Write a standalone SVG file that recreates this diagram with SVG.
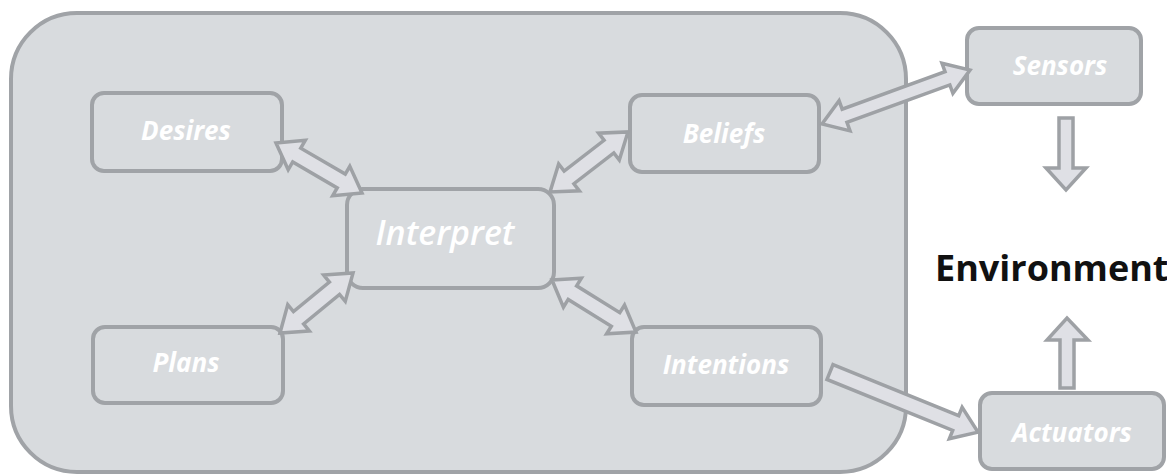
<svg xmlns="http://www.w3.org/2000/svg" width="1167" height="476" viewBox="0 0 1167 476">
  <style>
    .frame { fill: #d8dbde; stroke: #a0a3a7; stroke-width: 4; }
    .node { fill: #d8dbde; stroke: #a0a3a7; stroke-width: 4; }
    .lbl { font-family: "Open Sans", "DejaVu Sans", sans-serif; font-style: italic; font-weight: 700; font-size: 26px; fill: #ffffff; text-anchor: middle; }
    .big { font-size: 34px; font-weight: 600; }
    .env { font-family: "Open Sans", "Liberation Sans", sans-serif; font-weight: 700; font-size: 36px; fill: #111111; }
    .arrow { fill: #dfe0e5; stroke: #9ea1a5; stroke-width: 3.5; stroke-linejoin: miter; }
  </style>
  <rect width="1167" height="476" fill="#ffffff"/>

  <!-- agent boundary -->
  <rect id="agent" class="frame" x="11" y="13" width="895" height="459" rx="66" ry="66"/>

  <g id="desires">
    <rect class="node" x="92" y="93" width="190" height="78" rx="12"/>
    <text class="lbl" x="186" y="140">Desires</text>
  </g>
  <g id="plans">
    <rect class="node" x="93" y="327" width="190" height="76" rx="12"/>
    <text class="lbl" x="186" y="372">Plans</text>
  </g>
  <g id="interpret">
    <rect class="node" x="347" y="189" width="207" height="99" rx="16"/>
    <text class="lbl big" x="445" y="245">Interpret</text>
  </g>
  <g id="beliefs">
    <rect class="node" x="630" y="95" width="189" height="77" rx="12"/>
    <text class="lbl" x="724" y="143">Beliefs</text>
  </g>
  <g id="intentions">
    <rect class="node" x="632" y="327" width="189" height="78" rx="12"/>
    <text class="lbl" x="726" y="374">Intentions</text>
  </g>
  <g id="sensors">
    <rect class="node" x="967" y="28" width="174" height="76" rx="12"/>
    <text class="lbl" x="1060" y="75">Sensors</text>
  </g>
  <g id="actuators">
    <rect class="node" x="980" y="393" width="184" height="76" rx="12"/>
    <text class="lbl" x="1072" y="442">Actuators</text>
  </g>
  <g id="environment">
    <text class="env" x="935" y="281">Environment</text>
  </g>

  <!-- block arrows -->
  <g id="connectors">
    <!-- desires <-> interpret -->
    <polygon class="arrow" transform="translate(276 143) rotate(30.2)"
      points="0,0 24,-17 24,-8 75.5,-8 75.5,-17 99.5,0 75.5,17 75.5,8 24,8 24,17"/>
    <!-- interpret <-> beliefs -->
    <polygon class="arrow" transform="translate(550 192) rotate(-37.6)"
      points="0,0 24,-17 24,-8 74.4,-8 74.4,-17 98.4,0 74.4,17 74.4,8 24,8 24,17"/>
    <!-- plans <-> interpret -->
    <polygon class="arrow" transform="translate(280 333) rotate(-39.4)"
      points="0,0 24,-17 24,-8 70.5,-8 70.5,-17 94.5,0 70.5,17 70.5,8 24,8 24,17"/>
    <!-- interpret <-> intentions -->
    <polygon class="arrow" transform="translate(552 280) rotate(31.8)"
      points="0,0 24,-17 24,-8 74.8,-8 74.8,-17 98.8,0 74.8,17 74.8,8 24,8 24,17"/>
    <!-- beliefs <-> sensors -->
    <polygon class="arrow" transform="translate(822 124) rotate(-20)"
      points="0,0 24,-16 24,-7 133.5,-7 133.5,-16 157.5,0 133.5,16 133.5,7 24,7 24,16"/>
    <!-- intentions -> actuators -->
    <polygon class="arrow" transform="translate(830 372) rotate(22.1)"
      points="0,-8 135.7,-8 135.7,-17 159.7,0 135.7,17 135.7,8 0,8"/>
    <!-- sensors -> environment -->
    <polygon class="arrow" points="1059,118 1073,118 1073,168 1086,168 1066,190 1046,168 1059,168"/>
    <!-- actuators -> environment -->
    <polygon class="arrow" points="1060,388 1074,388 1074,340 1088,340 1067,318 1047,340 1060,340"/>
  </g>
</svg>
